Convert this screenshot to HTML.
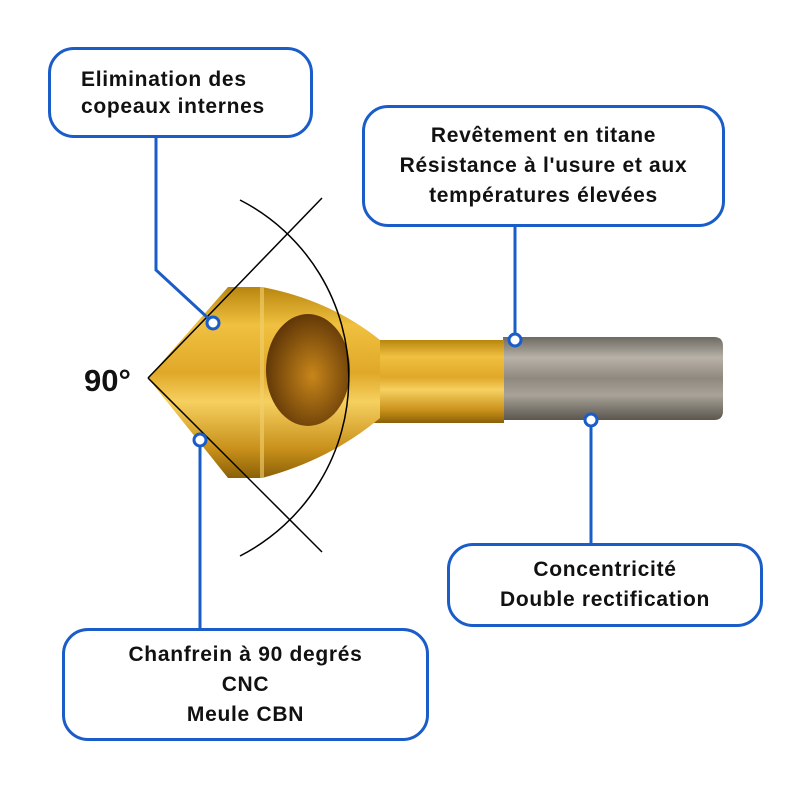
<!DOCTYPE html>
<html><head><meta charset="utf-8"><style>
body{margin:0;background:#fff;width:800px;height:800px;overflow:hidden;position:relative;font-family:"Liberation Sans",Arial,sans-serif}
.b{position:absolute;border:3px solid #1a5cc8;border-radius:26px;box-sizing:border-box;display:flex;flex-direction:column;justify-content:center;font-weight:bold;font-size:21px;letter-spacing:0.7px;color:#111;line-height:30px;background:#fff}
</style></head><body>
<svg width="800" height="800" style="position:absolute;left:0;top:0">
<defs>
<linearGradient id="g" x1="0" y1="0" x2="0" y2="1">
<stop offset="0" stop-color="#b8860e"/><stop offset="0.2" stop-color="#f0c040"/><stop offset="0.45" stop-color="#e0a828"/><stop offset="0.6" stop-color="#f6d060"/><stop offset="0.85" stop-color="#c8901a"/><stop offset="1" stop-color="#8a6008"/>
</linearGradient>
<linearGradient id="s" x1="0" y1="0" x2="0" y2="1">
<stop offset="0" stop-color="#6e6a62"/><stop offset="0.25" stop-color="#b8b2a8"/><stop offset="0.5" stop-color="#8e887e"/><stop offset="0.7" stop-color="#a8a298"/><stop offset="1" stop-color="#5a564e"/>
</linearGradient>
<radialGradient id="h" cx="0.55" cy="0.55" r="0.6"><stop offset="0" stop-color="#c8861a"/><stop offset="1" stop-color="#5a3206"/></radialGradient>
</defs>
<path d="M503 337 H714 Q723 337 723 346 V411 Q723 420 714 420 H503 Z" fill="url(#s)"/>
<rect x="370" y="340" width="134" height="83" fill="url(#g)"/>
<path d="M148 378 L228 287 H262 Q330 300 380 340 V418 Q330 460 262 478 H228 Z" fill="url(#g)"/>
<path d="M262 287 V478" stroke="#f4d070" stroke-width="4" opacity="0.6"/>
<ellipse cx="308" cy="370" rx="42" ry="56" fill="url(#h)"/>
<line x1="148" y1="378" x2="322" y2="198" stroke="#000" stroke-width="1.5"/>
<line x1="148" y1="378" x2="322" y2="552" stroke="#000" stroke-width="1.5"/>
<path d="M240 200 A200 200 0 0 1 240 556" fill="none" stroke="#000" stroke-width="1.5"/>
<g stroke="#1a5cc8" stroke-width="3" fill="none">
<polyline points="156,137 156,270 208,318"/>
<line x1="515" y1="226" x2="515" y2="334"/>
<line x1="591" y1="426" x2="591" y2="543"/>
<line x1="200" y1="446" x2="200" y2="628"/>
<circle cx="213" cy="323" r="6" fill="#fff"/>
<circle cx="515" cy="340" r="6" fill="#fff"/>
<circle cx="591" cy="420" r="6" fill="#fff"/>
<circle cx="200" cy="440" r="6" fill="#fff"/>
</g>
<text x="84" y="391" font-family="Liberation Sans" font-weight="bold" font-size="31" fill="#111">90°</text>
</svg>
<div class="b" style="left:48px;top:47px;width:265px;height:91px;padding-left:30px;line-height:27px">Elimination des<br>copeaux internes</div>
<div class="b" style="left:362px;top:105px;width:363px;height:122px;text-align:center">Revêtement en titane<br>Résistance à l'usure et aux<br>températures élevées</div>
<div class="b" style="left:447px;top:543px;width:316px;height:84px;text-align:center">Concentricité<br>Double rectification</div>
<div class="b" style="left:62px;top:628px;width:367px;height:113px;text-align:center">Chanfrein à 90 degrés<br>CNC<br>Meule CBN</div>
</body></html>
